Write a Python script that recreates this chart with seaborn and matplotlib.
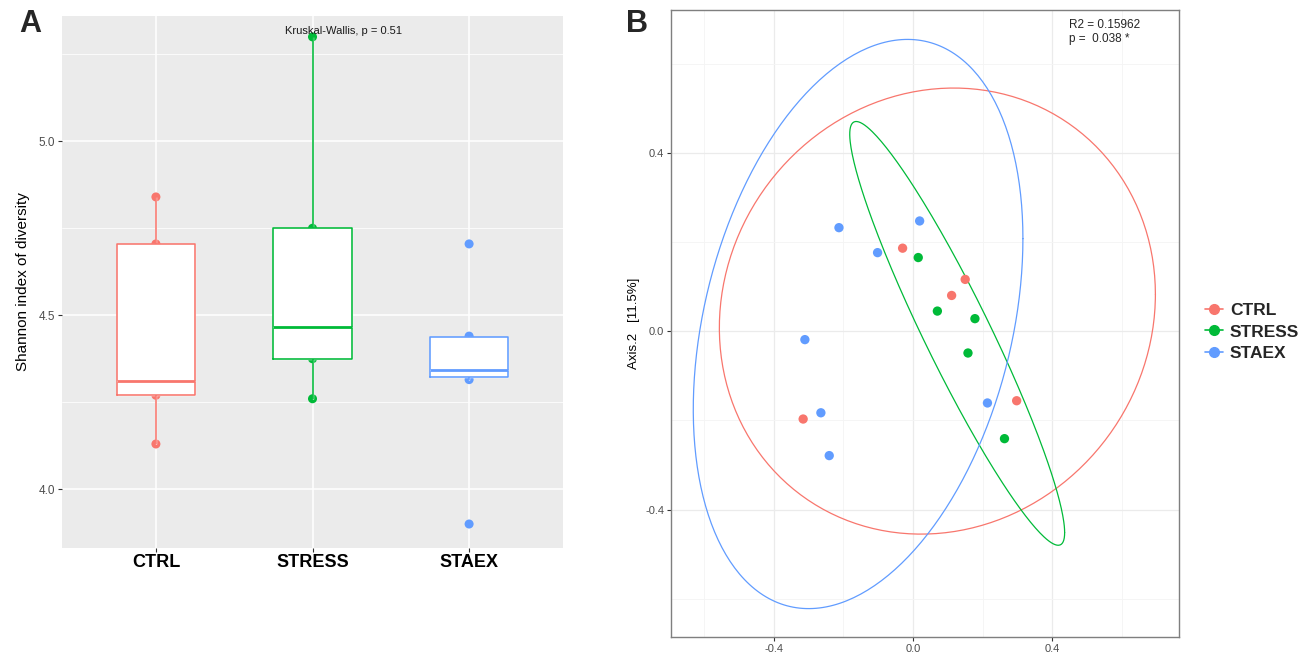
import numpy as np
import pandas as pd
import matplotlib
matplotlib.use('Agg')
import matplotlib.pyplot as plt
import seaborn as sns
from matplotlib.lines import Line2D
from matplotlib.ticker import FixedLocator

sns.set_theme(style='white')
plt.rcParams['font.family'] = ['Liberation Sans', 'DejaVu Sans']

# groups and ggplot-like colours
groups = ['CTRL', 'STRESS', 'STAEX']
pal = {'CTRL': '#F8766D', 'STRESS': '#00BA38', 'STAEX': '#619CFF'}

# A: Shannon diversity per sample
ctrl_shannon = [4.13, 4.27, 4.31, 4.705, 4.84]
stress_shannon = [4.26, 4.375, 4.465, 4.75, 5.30]
staex_shannon = [3.90, 4.315, 4.329, 4.344, 4.435, 4.44, 4.705]
kw_label = 'Kruskal-Wallis, p = 0.51'

# B: PCoA coordinates per sample
ctrl_ax1 = [-0.030, 0.150, 0.111, 0.298, -0.316]
ctrl_ax2 = [0.186, 0.116, 0.080, -0.156, -0.197]
stress_ax1 = [0.015, 0.070, 0.178, 0.158, 0.263]
stress_ax2 = [0.165, 0.045, 0.028, -0.049, -0.241]
staex_ax1 = [-0.213, 0.019, -0.102, -0.311, 0.214, -0.265, -0.241]
staex_ax2 = [0.232, 0.247, 0.176, -0.019, -0.161, -0.183, -0.279]

# 95% ellipse summaries (centre, half extents, correlation)
ell_cx = [0.07, 0.127, -0.158]
ell_cy = [0.045, -0.005, 0.016]
ell_rx = [0.627, 0.309, 0.474]
ell_ry = [0.50, 0.475, 0.638]
ell_rho = [0.075, -0.94, 0.30]
permanova = 'R2 = 0.15962\np =  0.038 *'

dfA = pd.DataFrame({
    'group': ['CTRL'] * len(ctrl_shannon) + ['STRESS'] * len(stress_shannon) + ['STAEX'] * len(staex_shannon),
    'shannon': ctrl_shannon + stress_shannon + staex_shannon,
})
dfB = pd.DataFrame({
    'group': ['CTRL'] * len(ctrl_ax1) + ['STRESS'] * len(stress_ax1) + ['STAEX'] * len(staex_ax1),
    'axis1': ctrl_ax1 + stress_ax1 + staex_ax1,
    'axis2': ctrl_ax2 + stress_ax2 + staex_ax2,
})

fig = plt.figure(figsize=(13.07, 6.56), dpi=100)

# ---------------- panel A ----------------
axA = fig.add_axes([0.0474, 0.1646, 0.3834, 0.811])
axA.set_facecolor('#EBEBEB')
sns.stripplot(data=dfA, x='group', y='shannon', hue='group', order=groups, palette=pal,
              jitter=False, size=6.5, linewidth=0, legend=False, ax=axA, zorder=1)
sns.boxplot(data=dfA, x='group', y='shannon', order=groups, color='white', linecolor='white',
            saturation=1, width=0.5, showfliers=False, showcaps=False, ax=axA)
sns.boxplot(data=dfA, x='group', y='shannon', hue='group', order=groups, palette=pal,
            saturation=1, fill=False, width=0.5, showfliers=False, showcaps=False,
            linewidth=1.15, medianprops={'linewidth': 2.0}, legend=False, ax=axA)
axA.text(1.2, 5.318, kw_label, ha='center', va='center', fontsize=8, color='#1A1A1A')

axA.set_xlim(-0.6, 2.6)
axA.set_ylim(3.831, 5.36)
axA.set_yticks([4.0, 4.5, 5.0])
axA.set_yticklabels(['4.0', '4.5', '5.0'])
axA.yaxis.set_minor_locator(FixedLocator([4.25, 4.75, 5.25]))
axA.set_axisbelow(True)
axA.grid(which='major', color='white', lw=1.1)
axA.grid(which='minor', axis='y', color='white', lw=0.55)
for s in axA.spines.values():
    s.set_visible(False)
axA.tick_params(axis='both', which='major', bottom=True, left=True, length=3, width=0.8, color='#333333')
axA.tick_params(axis='both', which='minor', length=0)
axA.tick_params(axis='y', labelsize=8.5, labelcolor='#4D4D4D', pad=2)
axA.tick_params(axis='x', labelsize=13, labelcolor='black', pad=1)
for lab in axA.get_xticklabels():
    lab.set_fontweight('bold')
axA.set_xlabel('')
axA.set_ylabel('Shannon index of diversity', fontsize=11, color='black', labelpad=6)

# ---------------- panel B ----------------
axB = fig.add_axes([0.5134, 0.0294, 0.3887, 0.9554])
axB.set_facecolor('white')
for g, cx, cy, rx, ry, rho in zip(groups, ell_cx, ell_cy, ell_rx, ell_ry, ell_rho):
    t = np.linspace(0, 2 * np.pi, 300)
    ex = cx + rx * np.cos(t)
    ey = cy + ry * (rho * np.cos(t) + np.sqrt(1 - rho ** 2) * np.sin(t))
    axB.plot(ex, ey, color=pal[g], lw=0.9, zorder=2)
sns.scatterplot(data=dfB, x='axis1', y='axis2', hue='group', hue_order=groups, palette=pal,
                s=45, linewidth=0, legend=False, ax=axB, zorder=3)
axB.text(0.449, 0.699, permanova, ha='left', va='top', fontsize=8.5, linespacing=1.15)

axB.set_xlim(-0.696, 0.765)
axB.set_ylim(-0.685, 0.72)
axB.set_xticks([-0.4, 0.0, 0.4])
axB.set_xticklabels(['-0.4', '0.0', '0.4'])
axB.set_yticks([-0.4, 0.0, 0.4])
axB.set_yticklabels(['-0.4', '0.0', '0.4'])
axB.xaxis.set_minor_locator(FixedLocator([-0.6, -0.2, 0.2, 0.6]))
axB.yaxis.set_minor_locator(FixedLocator([-0.6, -0.2, 0.2, 0.6]))
axB.set_axisbelow(True)
axB.grid(which='major', color='#EBEBEB', lw=0.9)
axB.grid(which='minor', color='#F4F4F4', lw=0.6)
for s in axB.spines.values():
    s.set_visible(True)
    s.set_color('#7F7F7F')
    s.set_linewidth(1.0)
axB.tick_params(axis='both', which='major', bottom=True, left=True, length=3, width=0.8,
                color='#333333', labelsize=8, labelcolor='#4D4D4D', pad=2)
axB.tick_params(axis='both', which='minor', length=0)
axB.set_xlabel('')
axB.set_ylabel('Axis.2   [11.5%]', fontsize=9.5, color='black', labelpad=4)

handles = [Line2D([0], [0], color=pal[g], marker='o', ms=7, lw=1.2) for g in groups]
fig.legend(handles, groups, loc='center left', bbox_to_anchor=(0.917, 0.494), frameon=False,
           prop={'weight': 'bold', 'size': 12.5}, handlelength=1.0, handletextpad=0.4,
           labelspacing=0.35, borderaxespad=0)

fig.text(0.023, 0.963, 'A', fontsize=22, fontweight='bold', ha='center', va='center')
fig.text(0.487, 0.963, 'B', fontsize=22, fontweight='bold', ha='center', va='center')

fig.savefig('out.png', dpi=100)
